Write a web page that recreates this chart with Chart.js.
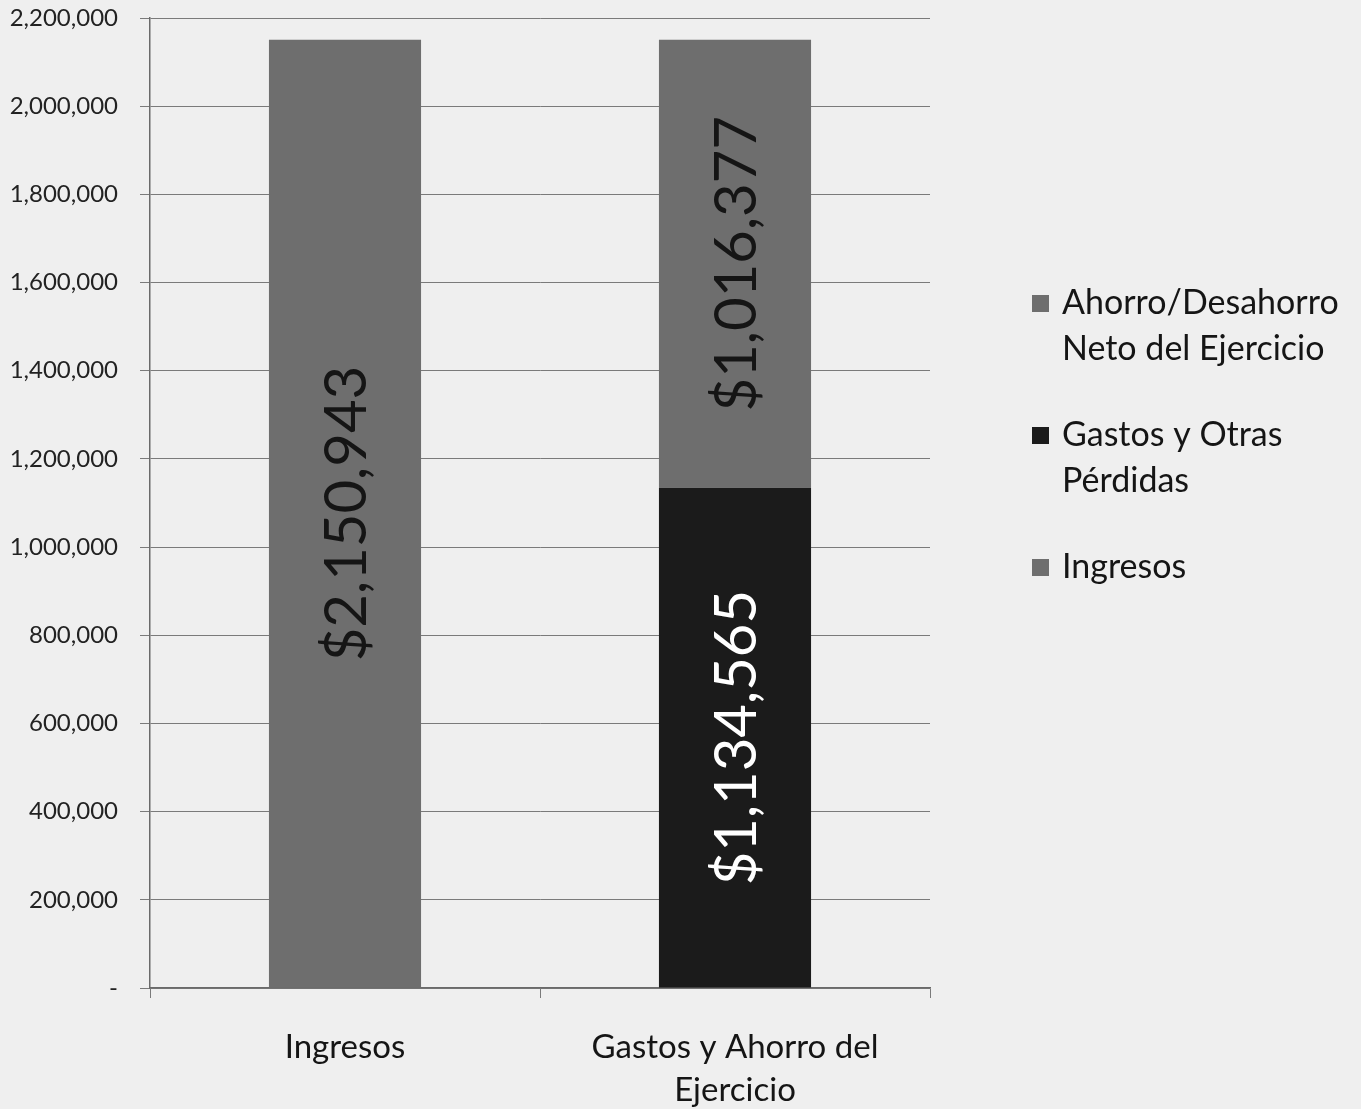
<!DOCTYPE html>
<html>
<head>
<meta charset="utf-8">
<script src="https://cdn.jsdelivr.net/npm/chart.js@4/dist/chart.umd.min.js"></script>
<style>
    html, body { margin: 0; padding: 0; background: #efefef; }
    #wrap { width: 1361px; height: 1109px; position: relative; }
</style>
</head>
<body>
<div id="wrap"><canvas id="finChart"></canvas></div>
<script>
const categories = ['Ingresos', ['Gastos y Ahorro del', 'Ejercicio']];
const ingresos = [2150943, null];
const gastos = [null, 1134565];
const ahorro = [null, 1016377];
const seriesNames = ['Ingresos', 'Gastos y Otras Pérdidas', 'Ahorro/Desahorro Neto del Ejercicio'];
const yMax = 2200000;
const yStep = 200000;

const FONT = 'Lato, "Open Sans", sans-serif';
const GRAY = '#6e6e6e';
const BLACK = '#1b1b1b';

function money(v) {
    return '$' + v.toLocaleString('en-US');
}

// rotated value labels in the middle of each segment
const segmentLabels = {
    id: 'segmentLabels',
    afterDatasetsDraw(chart) {
        const ctx = chart.ctx;
        chart.data.datasets.forEach((ds, i) => {
            const meta = chart.getDatasetMeta(i);
            meta.data.forEach((bar, j) => {
                const v = ds.data[j];
                if (v == null) return;
                const midY = (bar.y + bar.base) / 2;
                ctx.save();
                ctx.translate(bar.x + 2, midY);
                ctx.rotate(-Math.PI / 2);
                ctx.font = '58px ' + FONT;
                ctx.fillStyle = ds.labelColor;
                ctx.textAlign = 'center';
                ctx.textBaseline = 'middle';
                ctx.fillText(money(v), 0, 0);
                ctx.restore();
            });
        });
    }
};

// legend drawn at the right, wrapped, reverse order
const sideLegend = {
    id: 'sideLegend',
    afterDraw(chart) {
        const ctx = chart.ctx;
        ctx.save();
        ctx.font = '34px ' + FONT;
        ctx.textBaseline = 'middle';
        const maxW = 300;
        const x = 1032;
        let y = 303;
        const items = chart.data.datasets.slice().reverse();
        items.forEach(ds => {
            const words = ds.label.split(' ');
            const lines = [];
            let cur = '';
            words.forEach(w => {
                const test = cur ? cur + ' ' + w : w;
                if (ctx.measureText(test).width > maxW && cur) {
                    lines.push(cur);
                    cur = w;
                } else {
                    cur = test;
                }
            });
            lines.push(cur);
            ctx.fillStyle = ds.backgroundColor;
            ctx.fillRect(x, y - 8, 17, 17);
            ctx.fillStyle = '#151515';
            lines.forEach((ln, k) => {
                ctx.fillText(ln, x + 30, y + k * 46);
            });
            y += (lines.length - 1) * 46 + 86;
        });
        ctx.restore();
    }
};

const ctx = document.getElementById('finChart').getContext('2d');
const chart = new Chart(ctx, {
    type: 'bar',
    data: {
        labels: categories,
        datasets: [
            { label: seriesNames[0], data: ingresos, backgroundColor: GRAY, labelColor: '#151515' },
            { label: seriesNames[1], data: gastos, backgroundColor: BLACK, labelColor: '#ffffff' },
            { label: seriesNames[2], data: ahorro, backgroundColor: GRAY, labelColor: '#151515' }
        ]
    },
    options: {
        responsive: true,
        maintainAspectRatio: false,
        animation: false,
        devicePixelRatio: 1,
        barPercentage: 0.39,
        categoryPercentage: 1,
        skipNull: true,
        layout: { padding: { top: 18, right: 431, left: 0, bottom: 0 } },
        plugins: {
            legend: { display: false },
            tooltip: { enabled: false }
        },
        scales: {
            x: {
                stacked: true,
                afterFit(scale) { scale.height = 121; },
                grid: {
                    offset: true,
                    drawOnChartArea: false,
                    drawTicks: true,
                    tickLength: 10,
                    color: '#7a7a7a'
                },
                border: { color: '#6a6a6a', width: 1.5 },
                ticks: {
                    color: '#151515',
                    font: { family: FONT, size: 33, lineHeight: 1.3 },
                    padding: 28,
                    maxRotation: 0
                }
            },
            y: {
                stacked: true,
                min: 0,
                max: yMax,
                afterFit(scale) {
                    scale.width = 150;
                    scale.paddingTop = 0;
                    scale.paddingBottom = 0;
                },
                grid: {
                    color: '#7a7a7a',
                    lineWidth: 1,
                    tickLength: 10
                },
                border: { color: '#6a6a6a', width: 1.5 },
                ticks: {
                    stepSize: yStep,
                    color: '#222222',
                    padding: 22,
                    font: { family: FONT, size: 24 },
                    callback: v => v === 0 ? '-' : v.toLocaleString('en-US')
                }
            }
        }
    },
    plugins: [segmentLabels, sideLegend]
});
</script>
</body>
</html>
